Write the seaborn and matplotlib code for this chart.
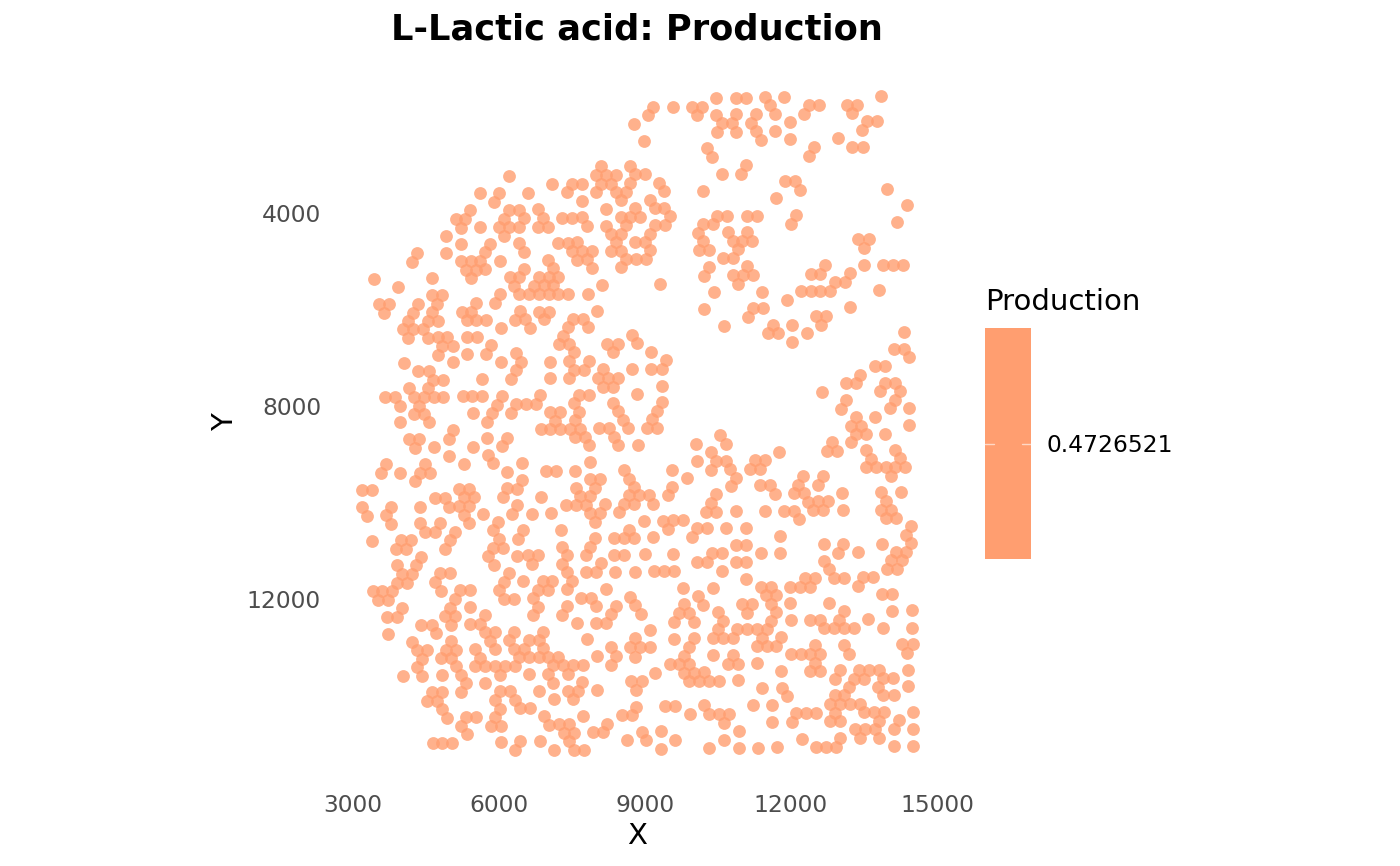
#!/usr/bin/env python

import numpy as np
import pandas as pd
import seaborn as sns
from matplotlib import pyplot as plt

# spot positions, (X, Y), one list per part of the tissue
spots_upper_left = [
    (8774, 2155), (8089, 3033), (8692, 3026), (6205, 3233), (7986, 3213), (8192, 3213), (8397, 3213), (8795, 3199),
    (7096, 3399), (7493, 3392), (7699, 3392), (8096, 3392), (8302, 3392), (8692, 3379), (5610, 3593), (6007, 3586),
    (6603, 3579), (7397, 3572), (7993, 3565), (8397, 3565), (8603, 3558), (5904, 3766), (7699, 3745), (8500, 3738),
    (5411, 3945), (6212, 3938), (6411, 3938), (6808, 3924), (8199, 3917), (8795, 3904), (5109, 4125), (5308, 4125),
    (6110, 4118), (6507, 4111), (6911, 4104), (7301, 4097), (7500, 4097), (7699, 4090), (8500, 4083), (8699, 4083),
    (8898, 4083), (5212, 4305), (5610, 4298), (6000, 4291), (6205, 4291), (6411, 4291), (6808, 4284), (7014, 4284),
    (7802, 4270), (8199, 4263), (8603, 4256), (4911, 4477), (6110, 4470), (8302, 4443), (8500, 4436), (5212, 4650),
    (5815, 4643), (6411, 4629), (7212, 4622), (7411, 4615), (7610, 4609), (8404, 4609), (8802, 4602), (4322, 4837),
    (4911, 4830), (5719, 4816), (6514, 4809), (7507, 4795), (7712, 4795), (7911, 4788), (8302, 4788), (8507, 4781),
    (4219, 5016), (5212, 4995), (5418, 4995), (5616, 4989), (6021, 4989), (7014, 4975), (7610, 4968), (7808, 4961),
    (8610, 4954), (8808, 4947), (5315, 5175), (5520, 5175), (5719, 5168), (6521, 5154), (7117, 5148), (7911, 5141),
    (8514, 5127), (3431, 5369), (4623, 5355), (5418, 5355), (6219, 5334), (6418, 5334), (6815, 5327), (7021, 5327),
    (7219, 5320), (3931, 5541), (6315, 5514), (6712, 5507), (6918, 5500), (7117, 5500), (8124, 5493), (4623, 5707),
    (4829, 5707), (6027, 5686), (6418, 5686), (6623, 5686), (6822, 5686), (7021, 5686), (7219, 5686), (7425, 5679),
    (7822, 5673), (3527, 5894), (3739, 5894), (4335, 5887), (4733, 5887), (5527, 5873), (5925, 5866),
]
spots_upper_right = [
    (13857, 1568), (10467, 1610), (10864, 1610), (11069, 1610), (11467, 1596), (11864, 1596), (9172, 1796), (9569, 1796),
    (9967, 1796), (10172, 1796), (11570, 1769), (12364, 1762), (12570, 1762), (13152, 1755), (13364, 1755), (9069, 1976),
    (10069, 1969), (10467, 1962), (10871, 1955), (11275, 1948), (11672, 1948), (12261, 1941), (13262, 1934), (13556, 2093),
    (13768, 2093), (10576, 2135), (10782, 2135), (11172, 2128), (11974, 2114), (10474, 2314), (10871, 2314), (11275, 2301),
    (11672, 2294), (13460, 2273), (8987, 2501), (11378, 2480), (11974, 2466), (12974, 2453), (13262, 2625), (13474, 2625),
    (10282, 2660), (12474, 2632), (10384, 2840), (12378, 2819), (11083, 3000), (10583, 3185), (10980, 3185), (8994, 3199),
    (11878, 3344), (12083, 3337), (9295, 3372), (13981, 3496), (12193, 3517), (9398, 3551), (10186, 3537), (11686, 3696),
    (9097, 3724), (14385, 3842), (9199, 3904), (9398, 3890), (12097, 4042), (10487, 4056), (10693, 4056), (11090, 4056),
    (11302, 4056), (9508, 4070), (14186, 4194), (11994, 4222), (10193, 4235), (10398, 4235), (9199, 4249), (9405, 4249),
    (10700, 4401), (11097, 4394), (10097, 4408), (9104, 4429), (13385, 4546), (13597, 4546), (10802, 4581), (11001, 4581),
    (11206, 4581), (10200, 4588), (9001, 4602), (13494, 4733), (10905, 4754), (10104, 4767), (10309, 4767), (9110, 4774),
    (10604, 4933), (10809, 4933), (9014, 4954), (13501, 5078), (13899, 5071), (14104, 5071), (14310, 5071), (12700, 5085),
    (11104, 5099), (10309, 5113), (12405, 5265), (12604, 5265), (13207, 5251), (10802, 5286), (11008, 5286), (11213, 5286),
    (10206, 5300), (12905, 5431), (13104, 5431), (10912, 5465), (9316, 5479), (12207, 5617), (12405, 5617), (12604, 5617),
    (12809, 5617), (13803, 5597), (11412, 5631), (10412, 5638), (11912, 5797), (13214, 5949), (10220, 5991), (11227, 5963),
    (11419, 5963),
]
spots_middle_left = [
    (3637, 6080), (4233, 6080), (4630, 6059), (5233, 6059), (5431, 6059), (6432, 6032), (6829, 6046), (7027, 6046),
    (8021, 6032), (4137, 6232), (4534, 6232), (4740, 6232), (5336, 6225), (5534, 6225), (5733, 6218), (6329, 6211),
    (6534, 6204), (6932, 6204), (7528, 6191), (7733, 6191), (4034, 6405), (4240, 6405), (4438, 6405), (6034, 6391),
    (6637, 6384), (7425, 6370), (7836, 6370), (4137, 6591), (4534, 6585), (4740, 6578), (4938, 6578), (5336, 6571),
    (5541, 6571), (7322, 6543), (8726, 6529), (4835, 6757), (5048, 6757), (5842, 6737), (7233, 6723), (7438, 6723),
    (8226, 6709), (8439, 6709), (8829, 6702), (4740, 6937), (5336, 6923), (5740, 6916), (6342, 6902), (7541, 6889),
    (8336, 6889), (4048, 7110), (5048, 7096), (6041, 7089), (6452, 7082), (7041, 7082), (7438, 7075), (7843, 7068),
    (4342, 7282), (4561, 7276), (6342, 7262), (7541, 7248), (7747, 7248), (8144, 7234), (8740, 7234), (4651, 7455),
    (4856, 7455), (5651, 7441), (6247, 7441), (7048, 7427), (7438, 7421), (8034, 7421), (8247, 7421), (8445, 7414),
    (4150, 7635), (4548, 7628), (8144, 7600), (8350, 7600), (3650, 7815), (3856, 7815), (4253, 7815), (4459, 7815),
    (4657, 7808), (4856, 7808), (5253, 7801), (5452, 7801), (5657, 7794), (6055, 7787), (6849, 7773), (7644, 7766),
    (7849, 7766), (8843, 7752), (3959, 7994), (4356, 7994), (5952, 7973), (6349, 7960), (6555, 7960), (6753, 7960),
    (7541, 7946), (8343, 7932), (4253, 8167), (4459, 8167), (5459, 8146), (5856, 8146), (6253, 8139), (7048, 8125),
    (7254, 8125), (7651, 8119), (8445, 8112), (3966, 8340), (4561, 8340), (5753, 8326), (7151, 8305), (7555, 8298),
    (8555, 8284), (5062, 8499), (6856, 8478), (7055, 8478), (7254, 8478), (7459, 8471), (7665, 8471), (8048, 8457),
    (8254, 8450), (8658, 8450), (4157, 8685), (4363, 8685), (4966, 8678), (5760, 8664), (6164, 8657), (7555, 8651),
    (7767, 8644), (8356, 8637), (4267, 8865), (4664, 8851), (5466, 8844), (6062, 8837), (7856, 8816), (8452, 8810),
    (8856, 8803), (4972, 9031), (5767, 9017), (3678, 9210), (4479, 9197), (5274, 9197), (5870, 9190), (6466, 9183),
    (7863, 9169), (3575, 9397), (3972, 9390), (4370, 9383), (4582, 9383), (6171, 9362), (6959, 9355), (7171, 9355),
    (7569, 9349), (8562, 9335), (4274, 9563), (6473, 9535), (7870, 9521), (8076, 9514), (8665, 9508), (3178, 9749),
    (3383, 9749), (5178, 9722), (5383, 9722), (6171, 9708), (6370, 9715), (7575, 9694), (7973, 9694), (8767, 9680),
    (4678, 9908), (4883, 9901), (5288, 9894), (5486, 9894), (6075, 9894), (6870, 9881), (7671, 9867), (7870, 9867),
    (8665, 9853), (8870, 9853), (3185, 10088), (3787, 10088), (4383, 10088), (4979, 10088), (5185, 10081), (5390, 10074),
    (6377, 10060), (7377, 10053), (7575, 10046), (7781, 10046), (8171, 10033), (8569, 10033), (8767, 10033), (3287, 10274),
    (3685, 10267), (5288, 10254), (5678, 10247), (6274, 10240), (6678, 10233), (7075, 10226), (7870, 10212), (8076, 10212),
    (8473, 10205), (3787, 10447), (4383, 10433), (4781, 10427), (5383, 10427), (5979, 10413), (7973, 10399),
]
spots_middle_right = [
    (11117, 6149), (12508, 6135), (12720, 6135), (10624, 6336), (11624, 6315), (12022, 6315), (12618, 6315), (14316, 6467),
    (11522, 6495), (11727, 6495), (12323, 6488), (12022, 6667), (14111, 6819), (14323, 6813), (9131, 6882), (14419, 6992),
    (9432, 7054), (13720, 7172), (13933, 7172), (9131, 7234), (9343, 7234), (13426, 7352), (13926, 7517), (14138, 7517),
    (13124, 7531), (13337, 7531), (9343, 7580), (13823, 7697), (14241, 7690), (12638, 7711), (13138, 7877), (14131, 7870),
    (9343, 7925), (13035, 8056), (14036, 8049), (14433, 8042), (9247, 8098), (13344, 8229), (13734, 8229), (9151, 8271),
    (13234, 8409), (13446, 8409), (14433, 8395), (9042, 8450), (9254, 8450), (13344, 8588), (13549, 8588), (13940, 8575),
    (10549, 8609), (12844, 8754), (13241, 8754), (10658, 8789), (10056, 8796), (13542, 8920), (14138, 8913), (10357, 8962),
    (11748, 8948), (12741, 8941), (12953, 8941), (13652, 9093), (14248, 9086), (11254, 9121), (11460, 9121), (10063, 9141),
    (10460, 9134), (10665, 9134), (13542, 9273), (13748, 9273), (13946, 9266), (14145, 9266), (14351, 9266), (11159, 9307),
    (11357, 9307), (10754, 9307), (10357, 9321), (9562, 9328), (14049, 9445), (12255, 9459), (12659, 9452), (10864, 9487),
    (9864, 9494), (12152, 9632), (12556, 9632), (11357, 9646), (11563, 9646), (10761, 9666), (9562, 9673), (13857, 9791),
    (14255, 9791), (13056, 9805), (12056, 9812), (12261, 9812), (11665, 9825), (10467, 9832), (9076, 9846), (9467, 9853),
    (12357, 9984), (12556, 9977), (12761, 9977), (13960, 9970), (10364, 10005), (9172, 10026), (13851, 10157), (14063, 10157),
    (13063, 10157), (12460, 10164), (12666, 10164), (11864, 10171), (12070, 10171), (11467, 10178), (10871, 10185), (10261, 10198),
    (10467, 10192), (12165, 10344), (13953, 10330), (14166, 10330), (9775, 10371), (9569, 10371), (9364, 10378), (8987, 10378),
    (14460, 10489), (10076, 10537), (10275, 10537), (10672, 10537), (11069, 10537), (9473, 10558),
]
spots_lower_left = [
    (4486, 10606), (4692, 10606), (5089, 10606), (5884, 10571), (6486, 10571), (7281, 10571), (8678, 10571), (5993, 10758),
    (6384, 10758), (7980, 10737), (8370, 10737), (8576, 10737), (8781, 10737), (3390, 10792), (3986, 10778), (4198, 10778),
    (4986, 10778), (7288, 10917), (7877, 10917), (3890, 10965), (4096, 10965), (4890, 10958), (5884, 10937), (6089, 10937),
    (8370, 11082), (8576, 11082), (5781, 11110), (6377, 11103), (6589, 11096), (6795, 11096), (7391, 11096), (7781, 11096),
    (4397, 11131), (6685, 11276), (7295, 11269), (8089, 11262), (3897, 11303), (4301, 11303), (5890, 11297), (6199, 11455),
    (7391, 11442), (7781, 11442), (7986, 11442), (8384, 11435), (8788, 11435), (4794, 11469), (4999, 11469), (4000, 11483),
    (4205, 11483), (6493, 11628), (6897, 11621), (7096, 11621), (7493, 11621), (3897, 11663), (4103, 11663), (4692, 11649),
    (6096, 11642), (8192, 11787), (6795, 11808), (7000, 11808), (7391, 11801), (5993, 11815), (5199, 11815), (5404, 11822),
    (3404, 11842), (3602, 11842), (3808, 11842), (4801, 11829), (8692, 11953), (7685, 11974), (7897, 11974), (6692, 11981),
    (6096, 11994), (6301, 11994), (5103, 12001), (3507, 12029), (3712, 12029), (8795, 12133), (8397, 12140), (7397, 12147),
    (7993, 12147), (6801, 12160), (5404, 12174), (4007, 12188), (4999, 12188), (8295, 12312), (7301, 12326), (6699, 12340),
    (5712, 12340), (3705, 12375), (3911, 12375), (4897, 12361), (5103, 12361), (7603, 12499), (8000, 12499), (8199, 12499),
    (5404, 12527), (5610, 12527), (4404, 12533), (4616, 12533), (5007, 12540), (6911, 12679), (6308, 12685), (5712, 12692),
    (5918, 12692), (4712, 12713), (3719, 12720), (8802, 12817), (7802, 12838), (6616, 12851), (6815, 12851), (6212, 12858),
    (5815, 12872), (4212, 12886), (5014, 12872), (8308, 13003), (8699, 13003), (8904, 13003), (6308, 13031), (6514, 13031),
    (6911, 13024), (5918, 13045), (5514, 13038), (4315, 13059), (4520, 13059), (4911, 13059), (5116, 13059), (8411, 13183),
    (8014, 13190), (8802, 13197), (7219, 13197), (6418, 13211), (6616, 13211), (6815, 13211), (7014, 13204), (5616, 13218),
    (4418, 13238), (4815, 13231), (5014, 13231), (8308, 13370), (7117, 13376), (7315, 13376), (7514, 13376), (7719, 13376),
    (5514, 13397), (5719, 13397), (5918, 13390), (6116, 13390), (6322, 13390), (4315, 13411), (5116, 13397), (6616, 13563),
    (7014, 13556), (7418, 13556), (4027, 13591), (4424, 13591), (4822, 13584), (6021, 13577), (5219, 13577), (8713, 13708),
    (7712, 13722), (7117, 13736), (5719, 13749), (5322, 13749), (8822, 13888), (8021, 13895), (7418, 13902), (7623, 13902),
    (6815, 13909), (6021, 13915), (6226, 13915), (4623, 13936), (4829, 13936), (5219, 13929), (7521, 14081), (7123, 14081),
    (5925, 14095), (6322, 14095), (4520, 14116), (4733, 14116), (8822, 14233), (6425, 14268), (6630, 14261), (6027, 14275),
    (4829, 14282), (8521, 14413), (8726, 14413), (7719, 14420), (6925, 14427), (5925, 14441), (5329, 14447), (5534, 14447),
    (4931, 14461), (8226, 14586), (7027, 14606), (7226, 14600), (7432, 14600), (5829, 14627), (6034, 14627), (5226, 14627),
    (7925, 14765), (8130, 14765), (7336, 14779), (7534, 14772), (5336, 14800), (8630, 14931), (7432, 14952), (6836, 14952),
    (6438, 14952), (6041, 14966), (4637, 14987), (4835, 14987), (5041, 14980), (7534, 15125), (7740, 15125), (7137, 15132),
    (6336, 15139),
]
spots_lower_right = [
    (11775, 10695), (14357, 10668), (9172, 10723), (9973, 10723), (14467, 10847), (10871, 10875), (11083, 10875), (12672, 10861),
    (13077, 10854), (13864, 10854), (10378, 11055), (10583, 11055), (11378, 11055), (11775, 11048), (12974, 11041), (13371, 11034),
    (14159, 11020), (14371, 11020), (8994, 11075), (9583, 11069), (10076, 11241), (10282, 11241), (10871, 11234), (11083, 11234),
    (12672, 11214), (14063, 11200), (14275, 11200), (10583, 11414), (9186, 11428), (9384, 11428), (9590, 11428), (12775, 11386),
    (13967, 11379), (14173, 11379), (11083, 11587), (12282, 11566), (12487, 11566), (12878, 11559), (13083, 11559), (13474, 11552),
    (13679, 11552), (9789, 11773), (10391, 11766), (11378, 11753), (11590, 11746), (11987, 11746), (12186, 11746), (12392, 11746),
    (13378, 11732), (10090, 11939), (11487, 11925), (11693, 11925), (13878, 11898), (14084, 11898), (10193, 12119), (10987, 12105),
    (11193, 12105), (11590, 12098), (11987, 12091), (12782, 12084), (9795, 12112), (9693, 12292), (9898, 12292), (10494, 12278),
    (11090, 12285), (11693, 12271), (13083, 12250), (14084, 12243), (14488, 12236), (8919, 12312), (11590, 12451), (11994, 12444),
    (12392, 12437), (12597, 12430), (12987, 12430), (13583, 12423), (9597, 12471), (10001, 12471), (10597, 12457), (9104, 12644),
    (10494, 12630), (10891, 12623), (11090, 12623), (11296, 12623), (11501, 12623), (12686, 12609), (12885, 12609), (13090, 12609),
    (13296, 12609), (13892, 12596), (14488, 12596), (9604, 12824), (10001, 12817), (10391, 12817), (10597, 12817), (10802, 12817),
    (11398, 12803), (11796, 12796), (12494, 12962), (13090, 12955), (14289, 12941), (14501, 12941), (9905, 12996), (11296, 12983),
    (11501, 12983), (11700, 12983), (9110, 13003), (9802, 13176), (10405, 13169), (10802, 13162), (12001, 13148), (12200, 13148),
    (12398, 13148), (12604, 13141), (13193, 13135), (14392, 13128), (9508, 13356), (9706, 13356), (9912, 13356), (10700, 13342),
    (10905, 13342), (11302, 13335), (12501, 13321), (14405, 13466), (13001, 13480), (13398, 13473), (13597, 13473), (13803, 13466),
    (11802, 13501), (9213, 13528), (9802, 13528), (10008, 13528), (10206, 13522), (12398, 13494), (12604, 13494), (13296, 13653),
    (13501, 13653), (13899, 13646), (14104, 13646), (12898, 13667), (10912, 13687), (9905, 13701), (10110, 13701), (10309, 13701),
    (10515, 13694), (8932, 13708), (13200, 13826), (13796, 13826), (14399, 13812), (11412, 13853), (11809, 13839), (12898, 13998),
    (13097, 13998), (13899, 13998), (14111, 13991), (11912, 14019), (9412, 14226), (9617, 14226), (10213, 14206), (11213, 14199),
    (11611, 14192), (12803, 14178), (13001, 14178), (13207, 14178), (13412, 14171), (14508, 14344), (12104, 14365), (12309, 14365),
    (12515, 14365), (10316, 14385), (10522, 14385), (10720, 14385), (9919, 14392), (12912, 14358), (13508, 14351), (13707, 14344),
    (13912, 14344), (14214, 14517), (13816, 14524), (10624, 14565), (11617, 14551), (12015, 14544), (12809, 14537), (13015, 14537),
    (14515, 14696), (14111, 14696), (13309, 14703), (13515, 14703), (13720, 14703), (10926, 14738), (9323, 14745), (8946, 14752),
    (13015, 14876), (12220, 14897), (13412, 14883), (13816, 14876), (9624, 14924), (10624, 14917), (9028, 14931), (14515, 15042),
    (14118, 15042), (12515, 15069), (12720, 15069), (12919, 15069), (11720, 15076), (11323, 15083), (10926, 15090), (10323, 15097),
    (9330, 15104),
]

production_value = 0.4726521
x_ticks = [3000, 6000, 9000, 12000, 15000]
y_ticks = [4000, 8000, 12000]

POINT_COLOR = "#ff9e70"
TEXT_GREY = "#4d4d4d"


def main():
    all_spots = (
        spots_upper_left
        + spots_upper_right
        + spots_middle_left
        + spots_middle_right
        + spots_lower_left
        + spots_lower_right
    )
    df = pd.DataFrame(all_spots, columns=["X", "Y"])
    df["Production"] = production_value

    sns.set_theme(style="white")
    plt.rcParams["font.family"] = "DejaVu Sans"

    fig = plt.figure(figsize=(14, 8.66), dpi=100)
    ax = fig.add_axes([353 / 1400, 1 - 775 / 866, 584 / 1400, 705 / 866])

    sns.scatterplot(
        df, x="X", y="Y", color=POINT_COLOR, alpha=0.8, s=85, linewidth=0, ax=ax, legend=False
    )

    ax.set_xlim(3000, 15000)
    ax.set_ylim(15650, 1036)
    ax.set_xticks(x_ticks)
    ax.set_yticks(y_ticks)
    ax.tick_params(axis="both", length=0, labelsize=16.8, labelcolor=TEXT_GREY)
    ax.tick_params(axis="x", pad=14)
    ax.tick_params(axis="y", pad=23)
    ax.set_xlabel("X", fontsize=21, color="black", va="center")
    ax.set_ylabel("Y", fontsize=21, color="black", va="center")
    ax.xaxis.set_label_coords(637 / 1400, 1 - 836 / 866, transform=fig.transFigure)
    ax.yaxis.set_label_coords(225 / 1400, 1 - 422 / 866, transform=fig.transFigure)
    sns.despine(ax=ax, left=True, bottom=True)

    fig.text(637 / 1400, 1 - 29 / 866, "L-Lactic acid: Production", fontsize=25.4, fontweight="bold",
             ha="center", va="center", color="black")

    # the legend is a colourbar with one value, so it is one flat colour
    cax = fig.add_axes([985 / 1400, 1 - 559 / 866, 46 / 1400, 231 / 866])
    cax.set_facecolor(POINT_COLOR)
    cax.set_xticks([])
    cax.set_ylim(production_value - 0.05, production_value + 0.05)
    cax.yaxis.tick_right()
    cax.set_yticks([production_value], labels=[f"{production_value:.7f}"])
    cax.tick_params(axis="y", length=0, labelsize=16.8, labelcolor="black", pad=11.5)
    for side in cax.spines:
        cax.spines[side].set_visible(False)
    cax.plot([0, 0.2], [production_value] * 2, color="white", alpha=0.6, lw=1, transform=cax.get_yaxis_transform())
    cax.plot([0.8, 1], [production_value] * 2, color="white", alpha=0.6, lw=1, transform=cax.get_yaxis_transform())

    fig.text(985 / 1400, 1 - 302 / 866, "Production", fontsize=21, ha="left", va="center", color="black")

    fig.savefig("out.png", dpi=100, facecolor="white")


if __name__ == "__main__":
    main()
